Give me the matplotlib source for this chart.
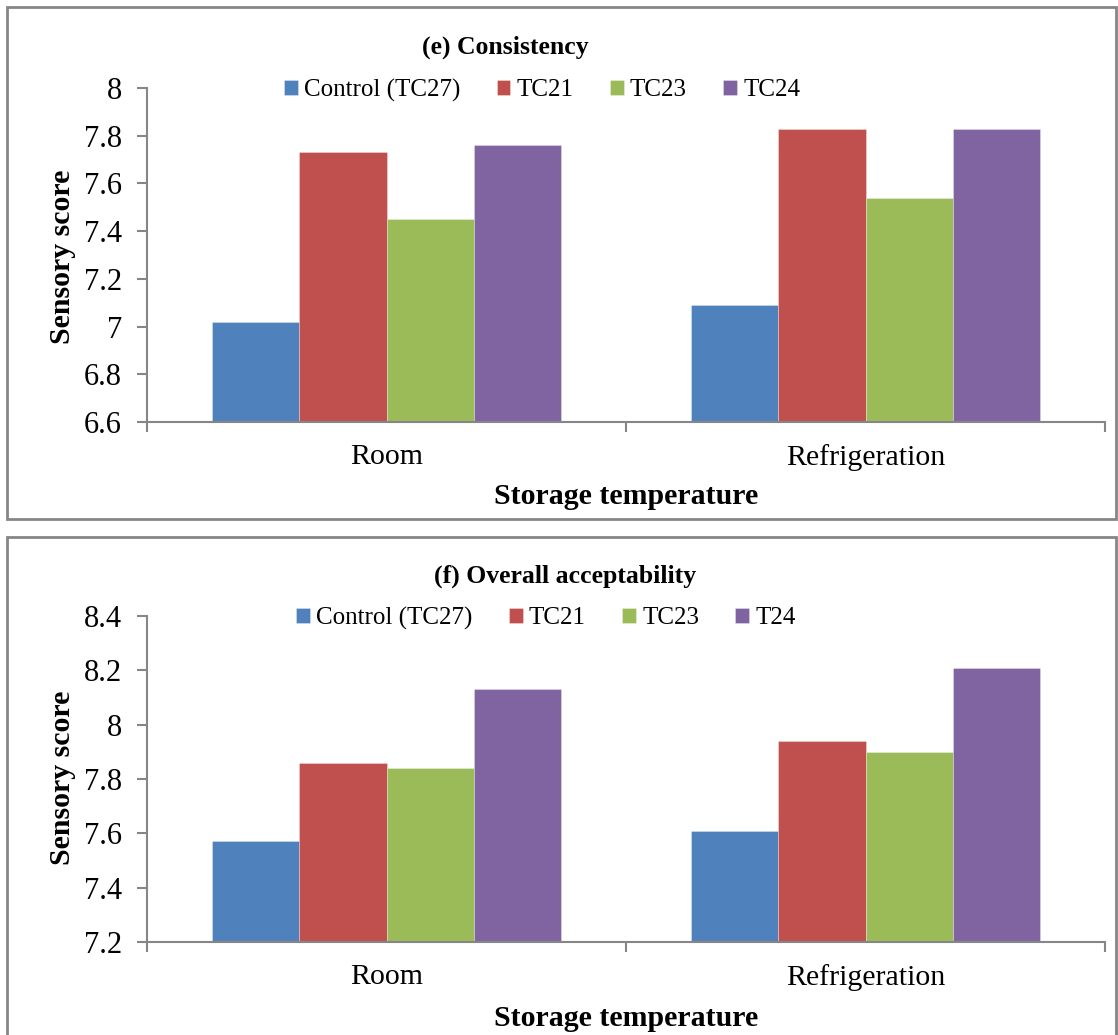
import matplotlib
matplotlib.use("Agg")
import matplotlib.pyplot as plt
from matplotlib.patches import Rectangle
import numpy as np

plt.rcParams['font.family'] = ['Liberation Serif', 'DejaVu Serif']

# Data
categories = ["Room", "Refrigeration"]
colors = ["#4F81BD", "#C0504D", "#9BBB59", "#8064A2"]

series_e = ["Control (TC27)", "TC21", "TC23", "TC24"]
consistency = {
    "Control (TC27)": [7.02, 7.09],
    "TC21": [7.73, 7.83],
    "TC23": [7.45, 7.54],
    "TC24": [7.76, 7.83],
}
ticks_e = [6.6, 6.8, 7.0, 7.2, 7.4, 7.6, 7.8, 8.0]
ticklabels_e = ["6.6", "6.8", "7", "7.2", "7.4", "7.6", "7.8", "8"]

series_f = ["Control (TC27)", "TC21", "TC23", "T24"]
acceptability = {
    "Control (TC27)": [7.57, 7.61],
    "TC21": [7.86, 7.94],
    "TC23": [7.84, 7.90],
    "T24": [8.13, 8.21],
}
ticks_f = [7.2, 7.4, 7.6, 7.8, 8.0, 8.2, 8.4]
ticklabels_f = ["7.2", "7.4", "7.6", "7.8", "8", "8.2", "8.4"]

W, H = 1118, 1035
fig = plt.figure(figsize=(W / 100, H / 100), dpi=100)
gray = "#868686"


def fx(px):
    return px / W


def fy(py):
    return 1 - py / H


# Panel frames
for top, bottom in [(7, 519), (537, 1040)]:
    fig.patches.append(Rectangle((fx(7), fy(bottom)), fx(1116) - fx(7), fy(top) - fy(bottom),
                                 transform=fig.transFigure, fill=False,
                                 edgecolor=gray, linewidth=2))


def panel(ax_top, ax_bot, names, data, ticks, ticklabels, title, title_xy, legend_xy, ylabel_xy,
          xlabel_y):
    ax = fig.add_axes([fx(147), fy(ax_bot), fx(1105) - fx(147), fy(ax_top) - fy(ax_bot)])
    x = np.arange(len(categories))
    bw = 0.182
    handles = []
    for i, name in enumerate(names):
        offs = (i - 1.5) * bw
        b = ax.bar(x + offs, np.array(data[name]) - ticks[0], bw, bottom=ticks[0],
                   color=colors[i], edgecolor=(1, 1, 1, 0.35), linewidth=0.6, label=name)
        handles.append(b)
    ax.set_xlim(-0.5, 1.5)
    ax.set_ylim(ticks[0], ticks[-1])
    ax.set_yticks(ticks)
    ax.set_yticklabels(ticklabels, fontsize=22)
    ax.set_xticks([-0.5, 0.5, 1.5])
    ax.set_xticklabels([])
    ax.set_xticks(x, minor=True)
    ax.set_xticklabels(categories, minor=True, fontsize=21.5)
    ax.tick_params(axis='y', direction='out', length=7, width=1.5, color=gray, pad=11)
    ax.tick_params(axis='x', which='major', direction='out', length=7, width=1.5, color=gray)
    ax.tick_params(axis='x', which='minor', length=0, pad=16)
    for s in ["top", "right"]:
        ax.spines[s].set_visible(False)
    for s in ["left", "bottom"]:
        ax.spines[s].set_color(gray)
        ax.spines[s].set_linewidth(1.5)
    ax.patch.set_alpha(0)

    fig.text(fx(title_xy[0]), fy(title_xy[1]), title, fontsize=18.5, fontweight='bold',
             ha='center', va='center')
    fig.legend(handles, names, loc='center', bbox_to_anchor=(fx(legend_xy[0]), fy(legend_xy[1])),
               ncol=4, frameon=False, fontsize=18, handlelength=0.55, handleheight=0.55,
               handletextpad=0.25, columnspacing=1.45, borderpad=0, borderaxespad=0)
    fig.text(fx(ylabel_xy[0]), fy(ylabel_xy[1]), "Sensory score", fontsize=21.5, fontweight='bold',
             rotation=90, ha='center', va='center')
    fig.text(fx(626), fy(xlabel_y), "Storage temperature", fontsize=21.5, fontweight='bold',
             ha='center', va='center')
    return ax


panel(88, 422, series_e, consistency, ticks_e, ticklabels_e, "(e) Consistency",
      (505, 47), (542, 90), (62, 257), 497)
panel(616, 942, series_f, acceptability, ticks_f, ticklabels_f, "(f) Overall acceptability",
      (565, 576), (546, 618), (62, 778), 1019)

fig.savefig("out.png", dpi=100)
